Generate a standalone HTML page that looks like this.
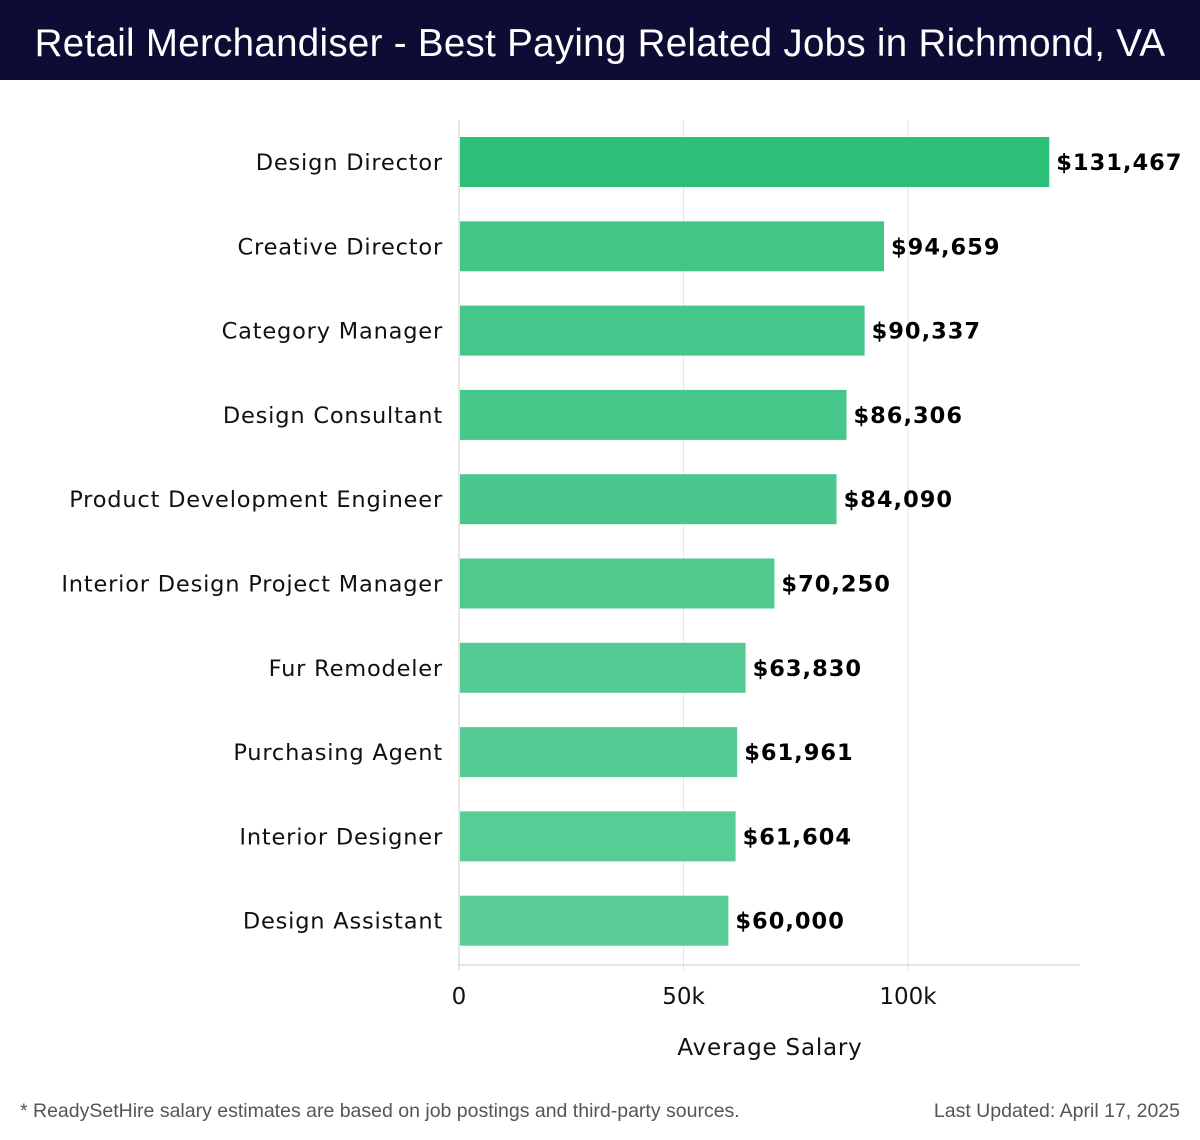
<!DOCTYPE html>
<html><head><meta charset="utf-8">
<style>
body{margin:0;width:1200px;height:1140px;background:#fff;overflow:hidden;font-family:"DejaVu Sans","Liberation Sans",sans-serif}
#title{position:absolute;left:0;top:0;width:1200px;height:80px;background:#0e0c35;color:#fff;font:38.5px "Liberation Sans",sans-serif;text-align:center;line-height:88px;letter-spacing:0.3px}
.foot{position:absolute;top:1100px;font:19.5px "Liberation Sans",sans-serif;color:#555}
</style></head><body>
<div id="title">Retail Merchandiser - Best Paying Related Jobs in Richmond, VA</div>
<svg id="chart" width="1200" height="1140" style="position:absolute;left:0;top:0"></svg>
<div class="foot" style="left:20px">* ReadySetHire salary estimates are based on job postings and third-party sources.</div>
<div class="foot" style="right:20px">Last Updated: April 17, 2025</div>
<script>
const categories=["Design Director","Creative Director","Category Manager","Design Consultant","Product Development Engineer","Interior Design Project Manager","Fur Remodeler","Purchasing Agent","Interior Designer","Design Assistant"];
const salaries=[131467,94659,90337,86306,84090,70250,63830,61961,61604,60000];
const ticks=[0,50000,100000];
const tickLabels=["0","50k","100k"];
const svg=document.getElementById('chart');
const NS='http://www.w3.org/2000/svg';
const x=v=>459+v*224.5/50000;
const y=i=>162+i*84.3;
function mk(t,a,txt){const e=document.createElementNS(NS,t);for(const k in a)e.setAttribute(k,a[k]);if(txt!==undefined)e.textContent=txt;svg.appendChild(e);return e;}
ticks.forEach((t,i)=>{
  const g=mk('line',{x1:x(t),x2:x(t),y1:120,y2:970,stroke:i==0?'#ccc':'#e6e6e6','stroke-width':1});
  
  
  const l=mk('text',{x:x(t),y:1004,'text-anchor':'middle','font-size':23,fill:'#111'},tickLabels[i]);
  
  
});
const ax=mk('line',{x1:459,x2:1080,y1:965,y2:965,stroke:'#ccc','stroke-width':1});


const at=mk('text',{x:770,y:1055,'text-anchor':'middle','font-size':23,'letter-spacing':0.8,fill:'#111'},'Average Salary');


const cols=['#2dbe78','#44c588','#46c68a','#48c78b','#4ac78c','#50c98f','#54ca92','#56cb94','#58cc95','#5acd97'];
categories.forEach((c,i)=>{
  const b=mk('rect',{x:460,y:y(i)-25,width:x(salaries[i])-460,height:50,fill:cols[i]});
  
  
  const l=mk('text',{x:443,y:y(i)+8,'text-anchor':'end','font-size':22.5,'letter-spacing':0.8,fill:'#111'},c);
  
  
  const v=mk('text',{x:x(salaries[i])+7,y:y(i)+8,'font-size':22.5,'font-weight':'bold','letter-spacing':1,fill:'#000'},'$'+salaries[i].toLocaleString('en-US'));
  
  
});
</script>
</body></html>
